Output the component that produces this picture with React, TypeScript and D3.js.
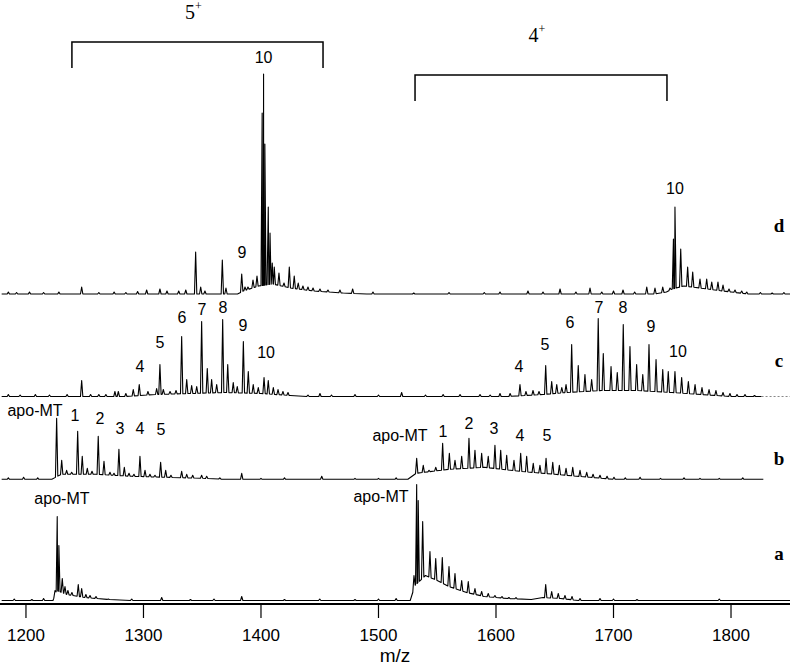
import React from "react";
import * as d3 from "d3";

// ---------- data (m/z, intensity in arbitrary units) ----------
const tickValues = [1200, 1300, 1400, 1500, 1600, 1700, 1800];
const seriesNames = ["d", "c", "b", "a"];

const peaksD: [number, number][] = [
  [1185, 2], [1192, 1.5], [1203, 2], [1215, 1.5], [1228, 2], [1247.4, 7], [1262, 1.5], [1275, 2],
  [1285, 1.5], [1295, 2.5], [1302.7, 4], [1314, 5], [1320, 3], [1330, 3], [1336, 4],
  [1344.4, 42], [1348.7, 7], [1352.3, 3], [1367.1, 34], [1370.2, 6],
  [1383.6, 20], [1386.4, 7], [1388.9, 7], [1393.2, 14], [1396.6, 18], [1401.0, 181], [1402.2, 220],
  [1403.3, 150], [1406.2, 87], [1407.7, 61], [1409.6, 31], [1411.3, 27], [1415.3, 21], [1419.6, 11],
  [1424.1, 27], [1428.3, 18], [1431.7, 11], [1435.7, 8], [1440, 7], [1444.3, 6], [1450.2, 5], [1457, 4],
  [1467.2, 4], [1478, 5], [1495.3, 2], [1530, 1], [1560, 1.5], [1590, 1.5], [1603.4, 2], [1627.2, 3],
  [1640, 2], [1654.5, 5], [1668, 2], [1680, 6], [1690, 2], [1700, 3], [1708.1, 4], [1718, 2],
  [1728.3, 7], [1735.3, 6], [1741.9, 7], [1748.1, 6], [1751.0, 55], [1752.3, 87], [1757.2, 45],
  [1763.1, 27], [1767.4, 22], [1773.6, 15], [1779.3, 15], [1783.6, 12], [1788.9, 12], [1793.2, 9],
  [1798.3, 5], [1803.4, 4], [1809.1, 3], [1813.4, 2], [1825, 1.5], [1835, 1], [1845, 1.5],
];
const envD: [number, number][] = [
  [1380, 0], [1385, 3], [1398, 8], [1410, 10], [1425, 6], [1445, 3], [1470, 1], [1490, 0],
  [1735, 0], [1745, 2], [1750, 5], [1760, 8], [1780, 5], [1800, 2], [1815, 0],
];

const peaksC: [number, number][] = [
  [1185, 2], [1195, 1.5], [1208, 2], [1220, 1.5], [1235, 2], [1247.4, 16], [1255, 2], [1262, 2], [1268, 2],
  [1275.7, 5], [1278.6, 5], [1285, 3], [1291.3, 7], [1296.4, 12], [1303.8, 5], [1311.2, 8],
  [1314, 32], [1316.9, 7], [1322.6, 5], [1327.7, 6], [1332.5, 60], [1336.8, 17], [1341, 11], [1345.3, 10],
  [1349.5, 75], [1354.3, 28], [1358, 17], [1362.3, 12], [1367.4, 77], [1371.7, 32], [1376.4, 14],
  [1379.8, 10], [1385, 55], [1389.2, 25], [1393.4, 12], [1397.7, 9], [1402.6, 19], [1406.2, 16],
  [1410.5, 9], [1414.5, 7], [1418.7, 5], [1423, 4], [1440, 1.5], [1450.2, 3], [1460, 1.5], [1480, 2],
  [1500, 1.5], [1519.7, 4], [1540, 1.5], [1555, 2], [1569.4, 2], [1586.4, 2], [1595, 1.5],
  [1603.4, 3], [1612, 3], [1620.4, 12], [1625.5, 5], [1631.5, 6], [1636.6, 5], [1642.3, 31], [1647.4, 15],
  [1651.7, 12], [1656, 9], [1659.6, 12], [1664.4, 52], [1670, 31], [1675.7, 22], [1681.4, 17], [1687, 78],
  [1691.3, 43], [1697.9, 30], [1703.2, 24], [1708.3, 72], [1714, 50], [1719.7, 32], [1724.9, 22],
  [1730.2, 52], [1736.2, 37], [1741.9, 27], [1746.6, 25], [1752.3, 25], [1758, 19], [1763.7, 15],
  [1769.4, 12], [1775.3, 9], [1781.3, 7], [1787.2, 6], [1793.2, 4], [1799.1, 3], [1805.1, 2], [1811.9, 2],
  [1820, 1],
];
const envC: [number, number][] = [
  [1285, 0], [1310, 2], [1340, 3], [1370, 4], [1400, 3], [1425, 1], [1440, 0],
  [1610, 0], [1640, 2], [1660, 4], [1690, 6], [1720, 6], [1750, 4], [1775, 2], [1800, 0],
];

const peaksB: [number, number][] = [
  [1185, 1.5], [1198, 2], [1210, 1.5],
  [1226.1, 61], [1230.4, 19], [1234.6, 9], [1238.9, 7], [1244, 48], [1247.9, 23], [1252.2, 11], [1256.2, 8],
  [1261.5, 43], [1266.4, 18], [1271.5, 7], [1274.9, 6], [1279.1, 30], [1283.7, 12], [1287.7, 6], [1291.9, 5],
  [1297, 23], [1301.3, 9], [1305.5, 5], [1309.8, 4], [1314.6, 17], [1318.9, 9], [1323.4, 4], [1332.5, 8],
  [1336.8, 5], [1341.9, 4], [1349.5, 4], [1353.8, 3], [1365, 1.5], [1383.6, 6], [1400, 1], [1420, 1.5],
  [1451.7, 3], [1480, 1], [1500, 1], [1515, 1.5], [1532.5, 21], [1538.1, 14],
  [1543, 9], [1548.7, 12], [1554.6, 36], [1560.3, 26], [1565.1, 19], [1570.8, 23], [1577, 41], [1582.1, 29],
  [1587.8, 26], [1593.4, 23], [1599.1, 34], [1604, 29], [1609.1, 24], [1615.3, 19], [1621, 26], [1626.1, 23],
  [1631.7, 16], [1637.4, 14], [1642.6, 21], [1648.3, 17], [1653.9, 14], [1659.6, 11], [1665.3, 12],
  [1671.5, 9], [1677.2, 7], [1682.6, 5], [1688.5, 4], [1694.5, 3], [1700.4, 2], [1710, 1.5], [1722.6, 2],
  [1740, 1], [1760, 1.5], [1773.6, 1], [1790, 1], [1810, 1.5],
];
const envB: [number, number][] = [
  [1222, 0], [1230, 5], [1260, 5], [1290, 3], [1320, 2], [1350, 1], [1370, 0],
  [1525, 0], [1532, 6], [1560, 10], [1590, 12], [1620, 8], [1650, 5], [1680, 2], [1700, 0],
];

const peaksA: [number, number][] = [
  [1190, 1.5], [1205, 1], [1215, 2],
  [1224.7, 10], [1226.6, 84], [1228.0, 55], [1230.9, 22], [1233.2, 14], [1235.7, 10], [1239.1, 8],
  [1244.5, 16], [1247.4, 12], [1251, 6], [1254.5, 5], [1259.6, 4], [1270, 1.5], [1290, 1.5], [1315.5, 3],
  [1340, 1], [1360, 1.5], [1383.6, 4], [1420, 1], [1450, 1.5], [1480, 1], [1500, 1.5], [1515, 2],
  [1530.2, 25], [1532.5, 116], [1533.8, 100], [1537.6, 79], [1543.8, 49], [1548.7, 42], [1554.3, 43],
  [1560, 34], [1565.1, 27], [1570.8, 20], [1576.4, 19], [1582.1, 12], [1587.8, 9], [1593.4, 7],
  [1599.1, 5], [1605.1, 4], [1611, 3], [1617, 3], [1642.3, 16], [1647.4, 9], [1653, 7], [1658.7, 5],
  [1664.7, 4], [1671.5, 2], [1688.5, 2], [1700, 1.5], [1720, 1], [1790, 1.5],
];
const envA: [number, number][] = [
  [1223, 0], [1226, 10], [1235, 6], [1250, 3], [1270, 1], [1290, 0],
  [1527, 0], [1531, 15], [1540, 25], [1550, 20], [1560, 14], [1575, 8], [1590, 4], [1610, 2], [1630, 1],
  [1640, 3], [1655, 2], [1670, 0],
];

// annotations: [m/z, level (intensity units), text]
const annD: [number, number, string][] = [[1402.2, 237, "10"], [1383.8, 42, "9"], [1752.3, 106, "10"]];
const annC: [number, number, string][] = [
  [1297.0, 30, "4"], [1314.0, 54, "5"], [1332.8, 79, "6"], [1349.8, 87, "7"], [1367.7, 89, "8"],
  [1384.7, 71, "9"], [1404.3, 44, "10"],
  [1619.6, 30, "4"], [1641.7, 52, "5"], [1663.0, 74, "6"], [1687.7, 89, "7"], [1708.1, 89, "8"],
  [1731.9, 70, "9"], [1754.9, 45, "10"],
];
const annB: [number, number, string][] = [
  [1207.7, 69, "apo-MT"], [1241.7, 64, "1"], [1263.0, 61, "2"], [1280.0, 51, "3"], [1297.0, 51, "4"],
  [1314.9, 50, "5"], [1518.3, 44, "apo-MT"], [1554.9, 48, "1"], [1577.0, 56, "2"], [1598.3, 51, "3"],
  [1620.4, 44, "4"], [1643.4, 44, "5"],
];
const annA: [number, number, string][] = [[1230.6, 102, "apo-MT"], [1502.1, 104, "apo-MT"]];

const chargeBrackets: [number, number, string][] = [
  [1239.1, 1452.8, "5"],
  [1531.1, 1745.5, "4"],
];

// ---------- layout ----------
const W = 790;
const H = 665;
const MZ_MIN = 1177.9;
const MZ_MAX = 1850.2;
const HW = 1.0; // peak half width in m/z

const x = d3.scaleLinear().domain([MZ_MIN, MZ_MAX]).range([0, W]);
const yUnit = d3.scaleLinear().domain([0, 100]).range([0, 100]);

type Trace = {
  name: string;
  peaks: [number, number][];
  env: [number, number][];
  ann: [number, number, string][];
  base: number;
  start: number;
  end: number;
  dottedEnd?: number;
  labelY: number;
};

const traces: Trace[] = [
  { name: seriesNames[0], peaks: peaksD, env: envD, ann: annD, base: 294, start: 1179.3, end: MZ_MAX, labelY: 232 },
  { name: seriesNames[1], peaks: peaksC, env: envC, ann: annC, base: 396.5, start: 1179.3, end: 1826, dottedEnd: MZ_MAX, labelY: 367 },
  { name: seriesNames[2], peaks: peaksB, env: envB, ann: annB, base: 479.3, start: 1179.3, end: 1827.5, labelY: 465 },
  { name: seriesNames[3], peaks: peaksA, env: envA, ann: annA, base: 600.5, start: 1179.3, end: MZ_MAX, labelY: 560 },
];

function buildProfile(t: Trace): [number, number][] {
  const envScale = d3
    .scaleLinear()
    .domain(t.env.map((e) => e[0]))
    .range(t.env.map((e) => e[1]))
    .clamp(true);
  const pts: [number, number][] = [];
  pts.push([t.start, envScale(t.start)]);
  pts.push([t.end, envScale(t.end)]);
  t.env.forEach(([m, v]) => {
    const inside = t.peaks.some(([pm]) => Math.abs(pm - m) < HW);
    if (!inside) pts.push([m, v]);
  });
  t.peaks.forEach(([m, h]) => {
    pts.push([m - HW, envScale(m - HW)]);
    pts.push([m, Math.max(h, envScale(m))]);
    pts.push([m + HW, envScale(m + HW)]);
  });
  return pts.filter((p) => p[0] >= t.start && p[0] <= t.end).sort((a, b) => a[0] - b[0]);
}

const sans = "'Liberation Sans', Arial, sans-serif";
const serif = "'Liberation Serif', 'Times New Roman', serif";

export default function App() {
  return (
    <>
      <style>{`body{margin:0;}`}</style>
      <svg width={W} height={H} viewBox={`0 0 ${W} ${H}`} style={{ display: "block", background: "#fff" }}>
        {traces.map((t) => {
          const line = d3
            .line<[number, number]>()
            .x((p) => x(p[0]))
            .y((p) => t.base - yUnit(p[1]));
          const pts = buildProfile(t);
          return (
            <g key={t.name}>
              <path d={line(pts) || ""} fill="none" stroke="#000" strokeWidth={1.1} strokeLinejoin="round" />
              {t.dottedEnd !== undefined && (
                <line
                  x1={x(t.end)}
                  x2={x(t.dottedEnd)}
                  y1={t.base}
                  y2={t.base}
                  stroke="#888"
                  strokeWidth={1}
                  strokeDasharray="2,2"
                />
              )}
              {t.ann.map(([m, lv, txt], i) => (
                <text
                  key={i}
                  x={x(m)}
                  y={t.base - yUnit(lv)}
                  dy="0.36em"
                  textAnchor="middle"
                  fontFamily={sans}
                  fontSize={16}
                  fill="#000"
                >
                  {txt}
                </text>
              ))}
              <text
                x={779}
                y={t.labelY}
                textAnchor="middle"
                fontFamily={serif}
                fontWeight="bold"
                fontSize={19}
                fill="#000"
              >
                {t.name}
              </text>
            </g>
          );
        })}

        {chargeBrackets.map(([m1, m2, z], i) => {
          const top = i === 0 ? 42 : 75;
          const bottom = top + 26;
          const labelY = i === 0 ? 19 : 42;
          return (
            <g key={z}>
              <path
                d={`M${x(m1)},${bottom}V${top}H${x(m2)}V${bottom}`}
                fill="none"
                stroke="#000"
                strokeWidth={1.5}
              />
              <text x={x((m1 + m2) / 2) - 4} y={labelY} textAnchor="middle" fontFamily={serif} fontSize={20} fill="#000">
                {z}
                <tspan fontSize={12} dy={-9}>+</tspan>
              </text>
            </g>
          );
        })}

        <line x1={0} x2={W} y1={604} y2={604} stroke="#000" strokeWidth={2} />
        {tickValues.map((v) => (
          <g key={v}>
            <line x1={x(v)} x2={x(v)} y1={604} y2={618} stroke="#000" strokeWidth={1.2} />
            <text x={x(v)} y={641} textAnchor="middle" fontFamily={sans} fontSize={17} fill="#000">
              {v}
            </text>
          </g>
        ))}
        <text x={395} y={662} textAnchor="middle" fontFamily={sans} fontSize={19} fill="#000">
          m/z
        </text>
      </svg>
    </>
  );
}
